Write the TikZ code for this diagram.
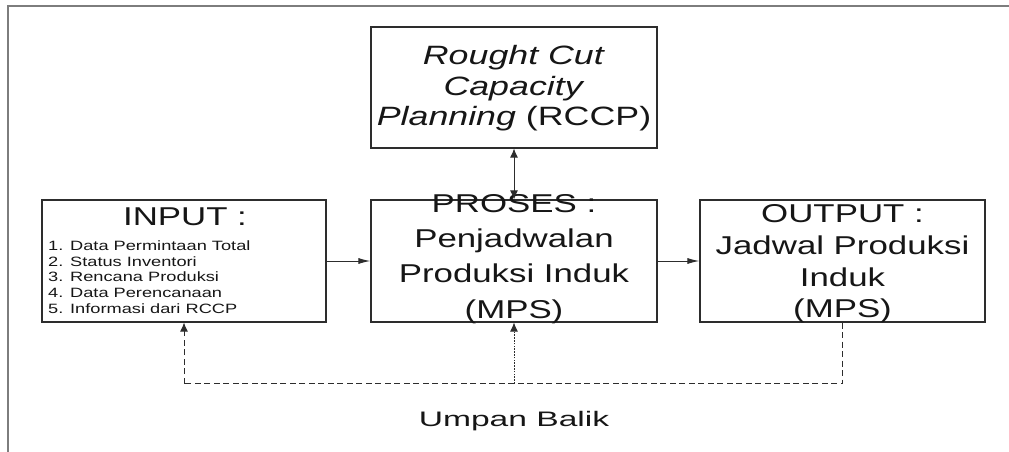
\documentclass[tikz,border=0pt]{standalone}
\usepackage{fontspec}
\setmainfont{Liberation Sans}[FakeStretch=1.35]
\newfontfamily\widefont{Liberation Sans}[FakeStretch=1.6]
\usetikzlibrary{arrows.meta}
\definecolor{ink}{RGB}{22,22,22}
\definecolor{edge}{RGB}{45,45,45}
\definecolor{framegray}{RGB}{125,125,125}
\newcommand{\bigfont}{\fontsize{25.8}{35.2}\selectfont}
\newcommand{\outfont}{\fontsize{25.8}{31.7}\selectfont}
\newcommand{\rcfont}{\fontsize{26.5}{30.5}\selectfont}
\newcommand{\listfont}{\fontsize{13.5}{15.7}\selectfont}
\begin{document}
\begin{tikzpicture}[x=1pt,y=-1pt,
  box/.style={draw=edge,line width=1.1pt,inner sep=0pt,minimum height=122pt},
  txt/.style={text=ink,inner sep=0pt,align=center},
  conn/.style={draw=edge,line width=1pt},
  harr/.style={conn,-{Latex[length=12pt,width=6pt]}},
  varr/.style={conn,-{Latex[length=9pt,width=8pt]}},
  vboth/.style={conn,{Latex[length=9pt,width=8pt]}-{Latex[length=9pt,width=8pt]}},
  fbline/.style={conn,dash pattern=on 6pt off 3.5pt},
  fbdot/.style={conn,line width=0.9pt,dash pattern=on 1.6pt off 1.2pt}]
\useasboundingbox (0,0) rectangle (1009,452);

% outer frame
\draw[framegray,line width=2pt] (8,452) -- (8,6) -- (1009,6);

% boxes
\node[box,minimum width=286pt,minimum height=121pt] (rccp) at (514,87.5) {};
\node[box,minimum width=284pt] (input) at (184,261) {};
\node[box,minimum width=286pt] (proses) at (514,261) {};
\node[box,minimum width=285pt] (output) at (842.5,261) {};

% box texts
\node[txt,anchor=north,font=\rcfont] (rccpText) at (514,45.5)
  {\textit{Rought Cut}\\\textit{Capacity}\\\textit{Planning} (RCCP)};
\node[txt,anchor=north,font=\bigfont] (inputTitle) at (185,208) {INPUT :};
\node[txt,anchor=north west,align=left,font=\listfont] (inputList) at (48,240.5)
  {1. Data Permintaan Total\\2. Status Inventori\\3. Rencana Produksi\\4. Data Perencanaan\\5. Informasi dari RCCP};
\node[txt,anchor=north,font=\bigfont] (prosesText) at (514,194.2)
  {PROSES :\\Penjadwalan\\Produksi Induk\\(MPS)};
\node[txt,anchor=north,font=\outfont] (outputText) at (842.5,204.5)
  {OUTPUT :\\Jadwal Produksi\\Induk\\(MPS)};

% main flow
\draw[vboth] (rccp.south) -- (proses.north);
\draw[harr] (input.east) -- (proses.west);
\draw[harr] (proses.east) -- (output.west);

% feedback loop
\coordinate (fbR) at ([yshift=-61pt]output.south);
\coordinate (fbL) at (input.south |- fbR);
\coordinate (fbM) at (proses.south |- fbR);
\draw[fbline] (output.south) -- (fbR) -- (fbL);
\draw[fbline,-{Latex[length=9pt,width=8pt]}] (fbL) -- (input.south);
\draw[fbdot,-{Latex[length=9pt,width=8pt]}] (fbM) -- (proses.south);

\node[txt,anchor=base,font=\widefont\fontsize{21}{24}\selectfont] (umpan) at (514,426.7) {Umpan Balik};
\end{tikzpicture}
\end{document}
